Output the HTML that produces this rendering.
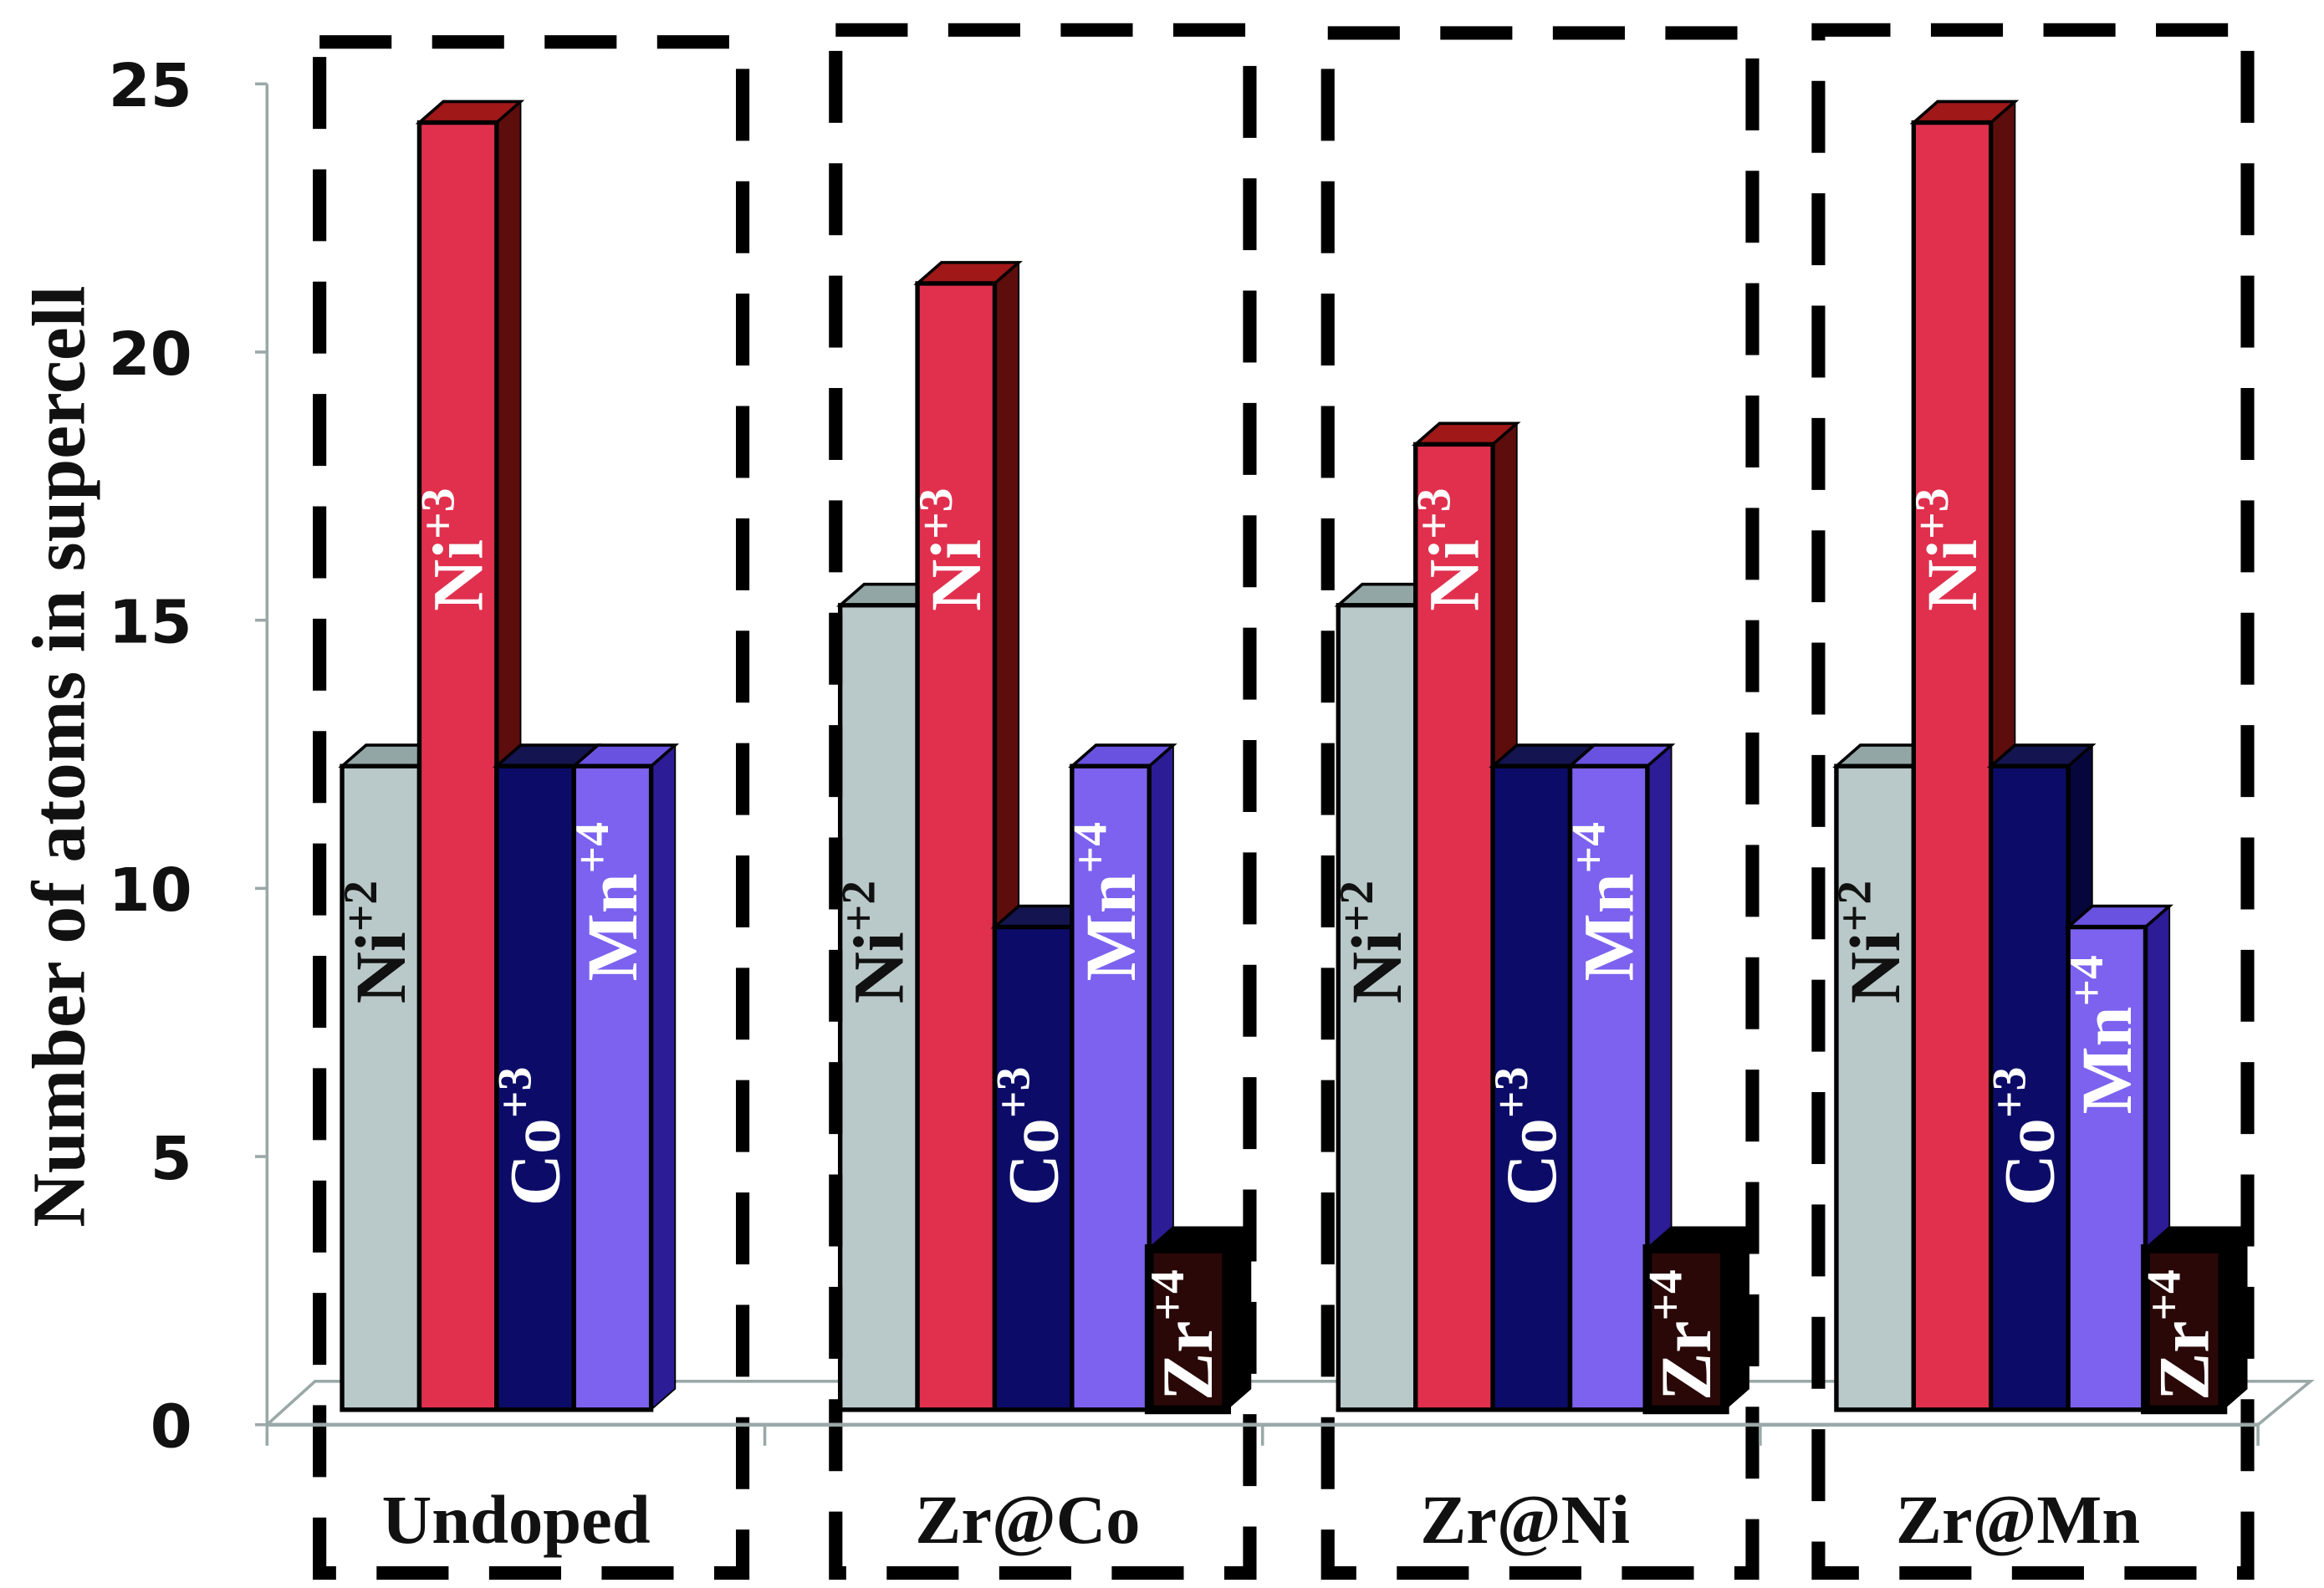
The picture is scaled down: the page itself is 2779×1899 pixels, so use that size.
<!DOCTYPE html>
<html><head><meta charset="utf-8">
<style>
html,body{margin:0;padding:0;background:#fff;}
svg{display:block;}
</style></head>
<body>
<svg id="chart" width="2779" height="1899" viewBox="0 0 1549 1060" preserveAspectRatio="none" xmlns="http://www.w3.org/2000/svg">
<g id="floor"></g>
<g id="bars"></g>
<g id="boxes"></g>
<g id="axis"></g>
<text transform="translate(56,505) rotate(-90)" text-anchor="middle" font-family="Liberation Serif, serif" font-weight="bold" font-size="50" fill="#111">Number of atoms in supercell</text>
</svg>
<script>
const categories = ["Undoped","Zr@Co","Zr@Ni","Zr@Mn"];
const seriesNames = ["Ni","Ni","Co","Mn","Zr"];
const seriesCharges = ["+2","+3","+3","+4","+4"];
const ni2 = [12,15,15,12];
const ni3 = [24,21,18,24];
const co3 = [12,9,12,12];
const mn4 = [12,12,12,9];
const zr4 = [0,3,3,3];
const yTicks = [0,5,10,15,20,25];

const svg = document.getElementById('chart');
const NS = 'http://www.w3.org/2000/svg';
const axisX = 178, y0 = 951, unit = 35.8, barBase = 941;
const groupStart = 228, groupStep = 332, barW = 51.5, dx = 16, dy = 14;
function yScale(v){ return y0 - v*unit; }
function barTop(v){ return barBase - v*unit; }
function mk(tag, attrs, parent){ const e=document.createElementNS(NS,tag); for(const k in attrs) e.setAttribute(k,attrs[k]); parent.appendChild(e); return e; }

const floor = document.getElementById('floor');
mk('polygon',{points:`${axisX},951 1505,951 1540,922 210,922`,fill:'#fff',stroke:'#9aa8a8','stroke-width':2},floor);
const axis = document.getElementById('axis');
mk('line',{x1:axisX,y1:y0,x2:axisX,y2:yScale(25),stroke:'#9aa8a8','stroke-width':2},axis);
mk('line',{x1:axisX,y1:y0,x2:1505,y2:y0,stroke:'#9aa8a8','stroke-width':2.5},axis);
yTicks.forEach(t=>{
  const y=yScale(t);
  const l=mk('line',{x1:axisX-8,y1:y,x2:axisX,y2:y,stroke:'#9aa8a8','stroke-width':2},axis);
  
  
  const tx=mk('text',{x:axisX-50,y:y+15,'text-anchor':'end','font-family':'DejaVu Sans, sans-serif','font-weight':'bold','font-size':40,fill:'#111'},axis);
  tx.textContent=t;
  
  
});
for(let i=0;i<=categories.length;i++){
  const x=axisX+i*331.75;
  mk('line',{x1:x,y1:y0,x2:x,y2:y0+14,stroke:'#9aa8a8','stroke-width':2},axis);
}

const fronts=['#b9c8c8','#e0304e','#0c0c68','#7c62ef','#2a0808'];
const sides=['#8fa3a3','#5e0d0d','#06063c','#2c1c95','#000'];
const tops=['#93a6a6','#a01818','#141450','#6a52e0','#000'];
const txtCol=['#111','#fff','#fff','#fff','#fff'];
const labelBottom=[670,408,805,655,935];
const data=[ni2,ni3,co3,mn4,zr4];
const bars=document.getElementById('bars');
categories.forEach((c,gi)=>{
  const gx=groupStart+gi*groupStep;
  data.forEach((arr,si)=>{
    const v=arr[gi]; if(!v) return;
    const x=gx+si*barW, t=barTop(v);
    const g=mk('g',{},bars);
    
    
    mk('polygon',{points:`${x+barW},${t} ${x+barW+dx},${t-dy} ${x+barW+dx},${barBase-dy} ${x+barW},${barBase}`,fill:sides[si],stroke:'#000','stroke-width':1},g);
    mk('polygon',{points:`${x},${t} ${x+dx},${t-dy} ${x+barW+dx},${t-dy} ${x+barW},${t}`,fill:tops[si],stroke:'#000','stroke-width':2},g);
    mk('rect',{x:x,y:t,width:barW,height:barBase-t,fill:fronts[si],stroke:'#000','stroke-width':si===4?6:3},g);
    let lb=labelBottom[si];
    if(si===3) lb=Math.max(labelBottom[si], t+125);
    const tx=mk('text',{transform:`translate(${x+barW/2+16},${lb}) rotate(-90)`,'font-family':'Liberation Serif, serif','font-weight':'bold','font-size':48,fill:txtCol[si]},g);
    
    
    tx.textContent=seriesNames[si];
    const sp=mk('tspan',{dy:-19,'font-size':32},tx);
    sp.textContent=seriesCharges[si];
  });
});

const boxes=document.getElementById('boxes');
const boxL=[213,557,885,1212], boxR=[495,833,1168,1498], boxT=[28,20,22,20];
categories.forEach((c,i)=>{
  const r=mk('rect',{x:boxL[i],y:boxT[i],width:boxR[i]-boxL[i],height:1050-boxT[i],fill:'none',stroke:'#000','stroke-width':9,'stroke-dasharray':'48 27'},boxes);
  
  
  const tx=mk('text',{x:(boxL[i]+boxR[i])/2-10,y:1030,'text-anchor':'middle','font-family':'Liberation Serif, serif','font-weight':'bold','font-size':46,fill:'#111'},boxes);
  tx.textContent=c;
  
  
});
</script>
</body></html>
